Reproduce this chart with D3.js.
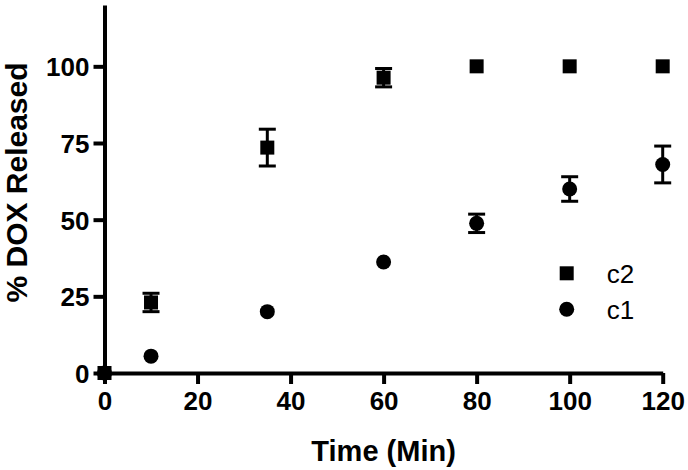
<!DOCTYPE html>
<html>
<head>
<meta charset="utf-8">
<script src="https://cdn.jsdelivr.net/npm/d3@7"></script>
<style>
  body { margin: 0; background: #fff; }
  svg { display: block; font-family: "Liberation Sans", Arial, sans-serif; }
</style>
</head>
<body>
<svg id="chart" width="688" height="470"></svg>
<script>
// time points (min)
const times = [0, 10, 35, 60, 80, 100, 120];
// % DOX released, mean and error (SD)
const c2Values = [0, 23, 73.5, 96.3, 100, 100, 100];
const c2Errors = [0, 3, 6, 3, 0, 0, 0];
const c1Values = [0, 5.5, 20, 36.2, 48.8, 60, 68];
const c1Errors = [0, 0, 0, 0, 3, 4, 6];
const xTicks = [0, 20, 40, 60, 80, 100, 120];
const yTicks = [0, 25, 50, 75, 100];
const legendLabels = ["c2", "c1"];

const svg = d3.select("#chart");

const x = d3.scaleLinear().domain([0, 120]).range([104.5, 662.7]);
const y = d3.scaleLinear().domain([0, 120]).range([373, 5]);

// axes
const xAxis = svg.append("g")
    .attr("transform", `translate(0,${y(0)})`)
    .call(d3.axisBottom(x).tickValues(xTicks).tickSize(11).tickSizeOuter(0).tickPadding(6));
const yAxis = svg.append("g")
    .attr("transform", `translate(${x(0)},0)`)
    .call(d3.axisLeft(y).tickValues(yTicks).tickSize(11).tickSizeOuter(0).tickPadding(4));

[xAxis, yAxis].forEach(ax => {
    ax.select(".domain").attr("stroke", "#000").attr("stroke-width", 4);
    ax.selectAll(".tick line").attr("stroke", "#000").attr("stroke-width", 4);
    ax.selectAll(".tick text")
        .attr("fill", "#000")
        .attr("font-size", 26)
        .attr("font-weight", "bold")
        .attr("font-family", "Liberation Sans, Arial, sans-serif");
});
xAxis.selectAll(".tick text").attr("dy", "0.75em");
yAxis.selectAll(".tick text").attr("dy", "0.36em");

// axis titles
svg.append("text")
    .attr("x", (x(0) + x(120)) / 2)
    .attr("y", 461)
    .attr("text-anchor", "middle")
    .attr("font-size", 29)
    .attr("font-weight", "bold")
    .text("Time (Min)");

svg.append("text")
    .attr("transform", `translate(27,${(28 + 337) / 2}) rotate(-90)`)
    .attr("text-anchor", "middle")
    .attr("font-size", 30)
    .attr("font-weight", "bold")
    .text("% DOX Released");

// error bars
function drawErrors(values, errors) {
    const g = svg.append("g").attr("stroke", "#000").attr("stroke-width", 3);
    times.forEach((t, i) => {
        if (!errors[i]) return;
        const cx = x(t), lo = y(values[i] - errors[i]), hi = y(values[i] + errors[i]);
        g.append("line").attr("x1", cx).attr("x2", cx).attr("y1", lo).attr("y2", hi);
        g.append("line").attr("x1", cx - 8.5).attr("x2", cx + 8.5).attr("y1", lo).attr("y2", lo);
        g.append("line").attr("x1", cx - 8.5).attr("x2", cx + 8.5).attr("y1", hi).attr("y2", hi);
    });
}
drawErrors(c2Values, c2Errors);
drawErrors(c1Values, c1Errors);

const sq = 14;
svg.append("g").selectAll("rect")
    .data(times)
    .join("rect")
    .attr("x", (d) => x(d) - sq / 2)
    .attr("y", (d, i) => y(c2Values[i]) - sq / 2)
    .attr("width", sq)
    .attr("height", sq)
    .attr("fill", "#000");

svg.append("g").selectAll("circle")
    .data(times)
    .join("circle")
    .attr("cx", d => x(d))
    .attr("cy", (d, i) => y(c1Values[i]))
    .attr("r", 7.5)
    .attr("fill", "#000");

// legend
const legend = svg.append("g").attr("transform", "translate(566.7,273.3)");
legend.append("rect").attr("x", -sq / 2).attr("y", -sq / 2).attr("width", sq).attr("height", sq).attr("fill", "#000");
legend.append("circle").attr("cx", 0).attr("cy", 36).attr("r", 7.5).attr("fill", "#000");
legend.selectAll("text")
    .data(legendLabels)
    .join("text")
    .attr("x", 40)
    .attr("y", (d, i) => i * 36)
    .attr("dy", "0.36em")
    .attr("font-size", 26)
    .text(d => d);
</script>
</body>
</html>
